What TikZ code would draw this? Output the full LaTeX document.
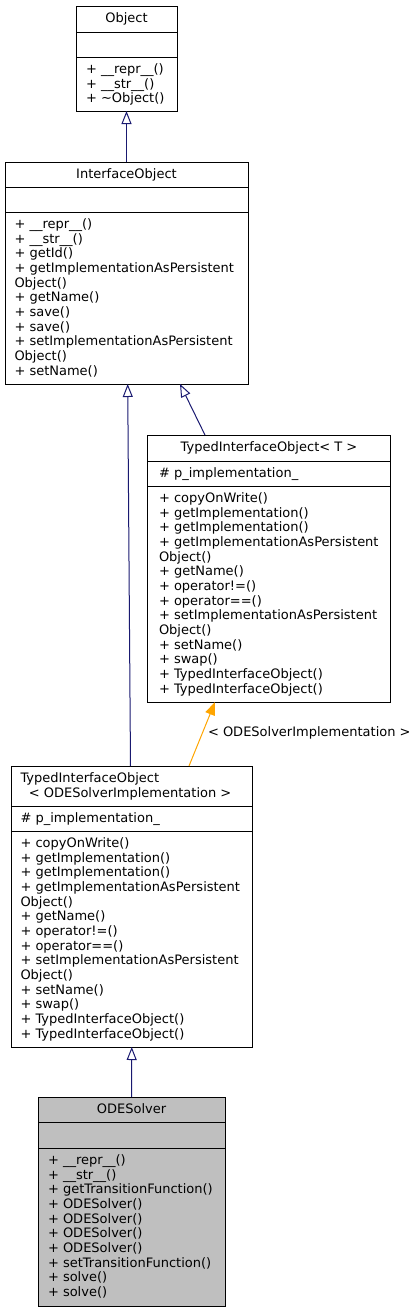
\documentclass[tikz,border=0pt]{standalone}
\usepackage{fontspec}
\setmainfont{DejaVu Sans}
\usetikzlibrary{arrows.meta}
\definecolor{edgeblue}{HTML}{191970}
\definecolor{tmplorange}{HTML}{FFA500}
\definecolor{curfill}{HTML}{BFBFBF}
\newcommand\memberlist[4]{%
  \foreach \mtext [count=\mi] in {#4} {\node[txt] (#1-\mi) at ({#2},{#3+(\mi-1)*14.67}) {\mtext};}}
\begin{document}
\begin{tikzpicture}[x=1pt,y=-1pt,
  cls/.style={draw=black, line width=1pt, inner sep=0pt, outer sep=0pt, anchor=north west},
  sepline/.style={draw=black, line width=1pt},
  txt/.style={inner sep=0pt, outer sep=0pt, anchor=base west, font=\fontsize{13}{14.67}\selectfont},
  hdr/.style={txt, anchor=base},
  inh/.style={draw=edgeblue, line width=1pt, -{Triangle[open, length=13pt, width=10pt]}},
  tmpl/.style={draw=tmplorange, line width=1pt, -{Triangle[length=13pt, width=10pt]}},
  lbl/.style={txt}
]
\useasboundingbox (0,0) rectangle (417,1312);

% ---------- Object ----------
\node[cls, minimum width=101pt, minimum height=105pt] (obj) at (76,6) {};
\draw[sepline] (obj.north west) ++(0,26) -- ++(101,0);
\draw[sepline] (obj.north west) ++(0,51) -- ++(101,0);
\node[hdr] (obj-h) at (126.5,22.5) {Object};
\memberlist{objm}{86}{73.5}{+ \_\_repr\_\_(), + \_\_str\_\_(), + \textasciitilde Object()}

% ---------- InterfaceObject ----------
\node[cls, minimum width=243pt, minimum height=222pt] (iface) at (5,162) {};
\draw[sepline] (iface.north west) ++(0,25) -- ++(243,0);
\draw[sepline] (iface.north west) ++(0,50) -- ++(243,0);
\node[hdr] (iface-h) at (126.5,178.5) {InterfaceObject};
\memberlist{ifacem}{14.5}{228.5}{+ \_\_repr\_\_(), + \_\_str\_\_(), + getId(), + getImplementationAsPersistent, Object(), + getName(), + save(), + save(), + setImplementationAsPersistent, Object(), + setName()}

% ---------- TypedInterfaceObject< T > ----------
\node[cls, minimum width=243pt, minimum height=267pt] (tiot) at (147.5,435) {};
\draw[sepline] (tiot.north west) ++(0,26) -- ++(243,0);
\draw[sepline] (tiot.north west) ++(0,51) -- ++(243,0);
\node[hdr] (tiot-h) at (269,451.5) {TypedInterfaceObject< T >};
\node[txt] (tiot-a) at (159,477.5) {\# p\_implementation\_};
\memberlist{tiotm}{159}{502.5}{+ copyOnWrite(), + getImplementation(), + getImplementation(), + getImplementationAsPersistent, Object(), + getName(), + operator!=(), + operator==(), + setImplementationAsPersistent, Object(), + setName(), + swap(), + TypedInterfaceObject(), + TypedInterfaceObject()}

% ---------- TypedInterfaceObject< ODESolverImplementation > ----------
\node[cls, minimum width=241.5pt, minimum height=281pt] (tiode) at (11,766) {};
\draw[sepline] (tiode.north west) ++(0,40) -- ++(241.5,0);
\draw[sepline] (tiode.north west) ++(0,65) -- ++(241.5,0);
\node[txt] (tiode-h1) at (20.5,782.5) {TypedInterfaceObject};
\node[txt] (tiode-h2) at (20.5,797.2) {\hspace{8.3pt}< ODESolverImplementation >};
\node[txt] (tiode-a) at (20.5,822.5) {\# p\_implementation\_};
\memberlist{tiodem}{20.5}{847.5}{+ copyOnWrite(), + getImplementation(), + getImplementation(), + getImplementationAsPersistent, Object(), + getName(), + operator!=(), + operator==(), + setImplementationAsPersistent, Object(), + setName(), + swap(), + TypedInterfaceObject(), + TypedInterfaceObject()}

% ---------- ODESolver ----------
\node[cls, fill=curfill, minimum width=187pt, minimum height=209pt] (ode) at (38,1097) {};
\draw[sepline] (ode.north west) ++(0,25) -- ++(187,0);
\draw[sepline] (ode.north west) ++(0,51) -- ++(187,0);
\node[hdr] (ode-h) at (131.5,1113.5) {ODESolver};
\memberlist{odem}{48}{1164.5}{+ \_\_repr\_\_(), + \_\_str\_\_(), + getTransitionFunction(), + ODESolver(), + ODESolver(), + ODESolver(), + ODESolver(), + setTransitionFunction(), + solve(), + solve()}

% ---------- connectors ----------
\draw[inh] (iface.north) -- (obj.south);
\draw[inh] ([xshift=57.5pt]tiot.north west) -- ([xshift=175pt]iface.south west);
\draw[inh] ([xshift=119.5pt]tiode.north west) -- ([xshift=122.7pt]iface.south west);
\draw[tmpl] ([xshift=178pt]tiode.north west) -- ([xshift=67.5pt]tiot.south west);
\node[lbl] (tmpl-label) at (208,736.7) {< ODESolverImplementation >};
\draw[inh] (ode.north) -- (tiode.south);
\end{tikzpicture}
\end{document}
